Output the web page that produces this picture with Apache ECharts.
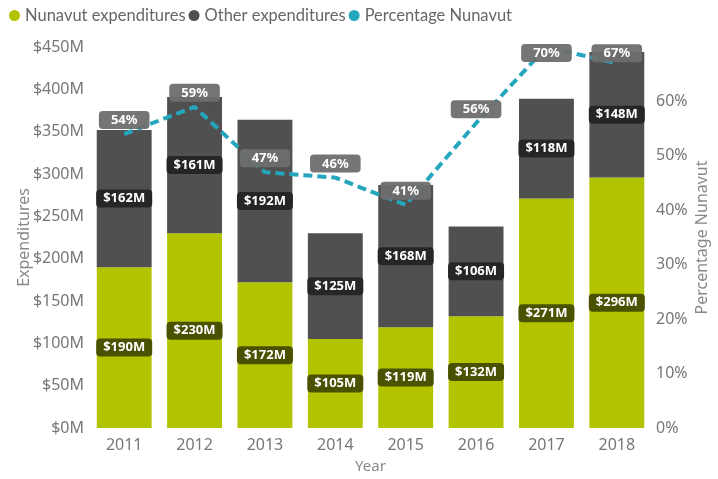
<!DOCTYPE html>
<html>
<head>
<meta charset="utf-8">
<script src="https://cdn.jsdelivr.net/npm/echarts@6/dist/echarts.min.js"></script>
<style>
  html, body { margin: 0; padding: 0; background: #fff; }
  #chartBox { width: 718px; height: 479px; }
</style>
</head>
<body>
<div id="chartBox"></div>
<script>
const years = ["2011", "2012", "2013", "2014", "2015", "2016", "2017", "2018"];
const nunavut = [190, 230, 172, 105, 119, 132, 271, 296];
const other = [162, 161, 192, 125, 168, 106, 118, 148];
const pctNunavut = [0.54, 0.59, 0.47, 0.46, 0.41, 0.56, 0.70, 0.67];

const font = "Noto Sans";
const chartDom = document.getElementById("chartBox");
const myChart = echarts.init(chartDom);

function barLabel(bg) {
  return {
    show: true,
    position: "inside",
    formatter: (p) => "$" + p.value + "M",
    color: "#fff",
    fontFamily: font,
    fontSize: 13,
    fontWeight: "bold",
    backgroundColor: bg,
    borderRadius: 4,
    padding: [3, 7, 2, 7],
  };
}

// labels at the top get pushed down into the plot
const pctData = pctNunavut.map((v, i) => {
  if (i === 6) return { value: v, label: { position: "inside", offset: [0, 6] } };
  if (i === 7) return { value: v, label: { position: "inside", offset: [0, -10] } };
  return v;
});

const option = {
  animation: false,
  textStyle: { fontFamily: font },
  legend: {
    left: 4,
    top: 2,
    icon: "circle",
    itemWidth: 11,
    itemHeight: 11,
    itemGap: 3,
    textStyle: { fontSize: 16.5, color: "#666", fontFamily: "Lato" },
    data: ["Nunavut expenditures", "Other expenditures", "Percentage Nunavut"],
  },
  grid: { left: 89, right: 56, top: 47, bottom: 51 },
  xAxis: {
    type: "category",
    data: years,
    name: "Year",
    nameLocation: "middle",
    nameGap: 31,
    nameTextStyle: { fontSize: 15, color: "#888" },
    axisLine: { show: false },
    axisTick: { show: false },
    axisLabel: { fontSize: 16, color: "#777", margin: 9 },
  },
  yAxis: [
    {
      type: "value",
      min: 0,
      max: 450,
      interval: 50,
      name: "Expenditures",
      nameLocation: "middle",
      nameGap: 57,
      nameMoveOverlap: false,
      nameTextStyle: { fontSize: 16, color: "#888" },
      splitLine: { show: false },
      axisLabel: {
        fontSize: 16,
        color: "#777",
        margin: 5,
        formatter: (v) => "$" + v + "M",
      },
    },
    {
      type: "value",
      min: 0,
      max: 0.7,
      interval: 0.1,
      name: "Percentage Nunavut",
      nameLocation: "middle",
      nameGap: 42,
      nameMoveOverlap: false,
      nameTextStyle: { fontSize: 16, color: "#888" },
      splitLine: { show: false },
      axisLabel: {
        fontSize: 16,
        color: "#777",
        margin: 4,
        formatter: (v) => (v > 0.65 ? "" : Math.round(v * 100) + "%"),
      },
    },
  ],
  series: [
    {
      name: "Nunavut expenditures",
      type: "bar",
      stack: "exp",
      barCategoryGap: "22%",
      data: nunavut,
      itemStyle: { color: "#b2c400" },
      label: barLabel("#4a5100"),
    },
    {
      name: "Other expenditures",
      type: "bar",
      stack: "exp",
      data: other,
      itemStyle: { color: "#505050" },
      label: barLabel("#262626"),
    },
    {
      name: "Percentage Nunavut",
      type: "line",
      yAxisIndex: 1,
      data: pctData,
      showSymbol: true,
      symbol: "circle",
      symbolSize: 0.1,
      itemStyle: { color: "#24a6bd" },
      lineStyle: { color: "#24a6bd", width: 4, type: [9, 5] },
      z: 5,
      label: {
        show: true,
        position: "top",
        distance: 5,
        formatter: (p) => Math.round(p.value * 100) + "%",
        color: "#fff",
        fontFamily: font,
        fontSize: 13,
        fontWeight: "bold",
        backgroundColor: "rgba(110,110,110,0.95)",
        borderRadius: 4,
        padding: [3, 12, 2, 12],
      },
    },
  ],
};

option && myChart.setOption(option);
</script>
</body>
</html>
